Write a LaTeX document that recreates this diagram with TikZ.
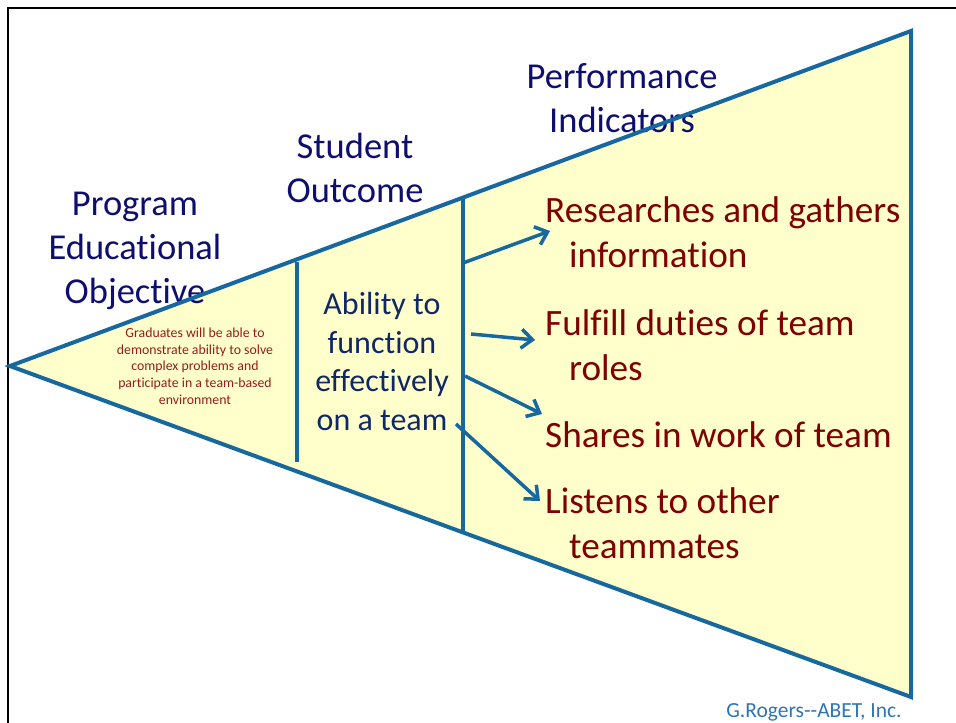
\documentclass[tikz,border=0pt]{standalone}
\usepackage{fontspec}
\setmainfont{Carlito}[Ligatures={NoCommon}]
\usetikzlibrary{arrows.meta}
\definecolor{tblue}{RGB}{22,104,158}
\definecolor{tyellow}{RGB}{255,255,204}
\definecolor{hnavy}{RGB}{14,14,110}
\definecolor{anavy}{RGB}{16,40,100}
\definecolor{dred}{RGB}{128,0,0}
\definecolor{sred}{RGB}{150,28,28}
\definecolor{fblue}{RGB}{46,117,182}
\tikzset{
  header/.style={font=\fontsize{36.5}{44}\selectfont, text=hnavy, align=center, inner sep=0pt, anchor=base},
  item/.style={font=\fontsize{37.2}{44.5}\selectfont, text=dred, align=left, inner sep=0pt, anchor=base west},
  outcome/.style={font=\fontsize{32}{38.4}\selectfont, text=anavy, align=center, inner sep=0pt, anchor=base},
  small/.style={font=\fontsize{13.8}{16.7}\selectfont, text=sred, align=center, inner sep=0pt},
  edge/.style={draw=tblue, line width=4pt},
  arr/.style={draw=tblue, line width=3.5pt, -{Straight Barb[length=11pt,width=19pt]}},
}
\begin{document}
\begin{tikzpicture}[x=1pt,y=-1pt]
\useasboundingbox (0,0) rectangle (956,723);
% frame
\draw[line width=2pt, black] (956,8) -- (8,8) -- (8,723);
% triangle
\coordinate (apex) at (10,366);
\coordinate (tr) at (911,31);
\coordinate (br) at (911,697);
\fill[tyellow] (apex) -- (tr) -- (br) -- cycle;
% texts (base anchor = baseline of the last line)
\node[header] (peo) at (135,303) {Program\\Educational\\Objective};
\node[header] (so) at (355,202) {Student\\Outcome};
\node[header] (pi) at (622,132) {Performance\\Indicators};
\node[small] (grad) at (195,366) {Graduates will be able to\\demonstrate ability to solve\\complex problems and\\participate in a team-based\\environment};
\node[outcome] (ab) at (382,430) {Ability to\\function\\effectively\\on a team};
\node[item] (r1) at (545,267) {Researches and gathers\\\hspace*{24pt}information};
\node[item] (r2) at (545,380) {Fulfill duties of team\\\hspace*{24pt}roles};
\node[item] (r3) at (545,447) {Shares in work of team};
\node[item] (r4) at (545,558) {Listens to other\\\hspace*{24pt}teammates};
\node[font=\fontsize{21.5}{26}\selectfont, text=fblue, inner sep=0pt, anchor=base] (foot) at (814,717) {G.Rogers-{}-ABET, Inc.};
% outline
\draw[edge, line join=miter] (apex) -- (tr) -- (br) -- cycle;
\coordinate (v1t) at (297,262);
\coordinate (v1b) at (297,462);
\coordinate (v2t) at (463,197);
\coordinate (v2b) at (463,532);
\draw[edge] (v1t) -- (v1b);
\draw[edge] (v2t) -- (v2b);
% arrows
\coordinate (a1s) at (463,263); \coordinate (a1e) at (550,231);
\coordinate (a2s) at (471,334); \coordinate (a2e) at (535,340);
\coordinate (a3s) at (465,376); \coordinate (a3e) at (542,414);
\coordinate (a4s) at (456,424); \coordinate (a4e) at (540,501);
\draw[arr] (a1s) -- (a1e);
\draw[arr] (a2s) -- (a2e);
\draw[arr] (a3s) -- (a3e);
\draw[arr] (a4s) -- (a4e);
\end{tikzpicture}
\end{document}
